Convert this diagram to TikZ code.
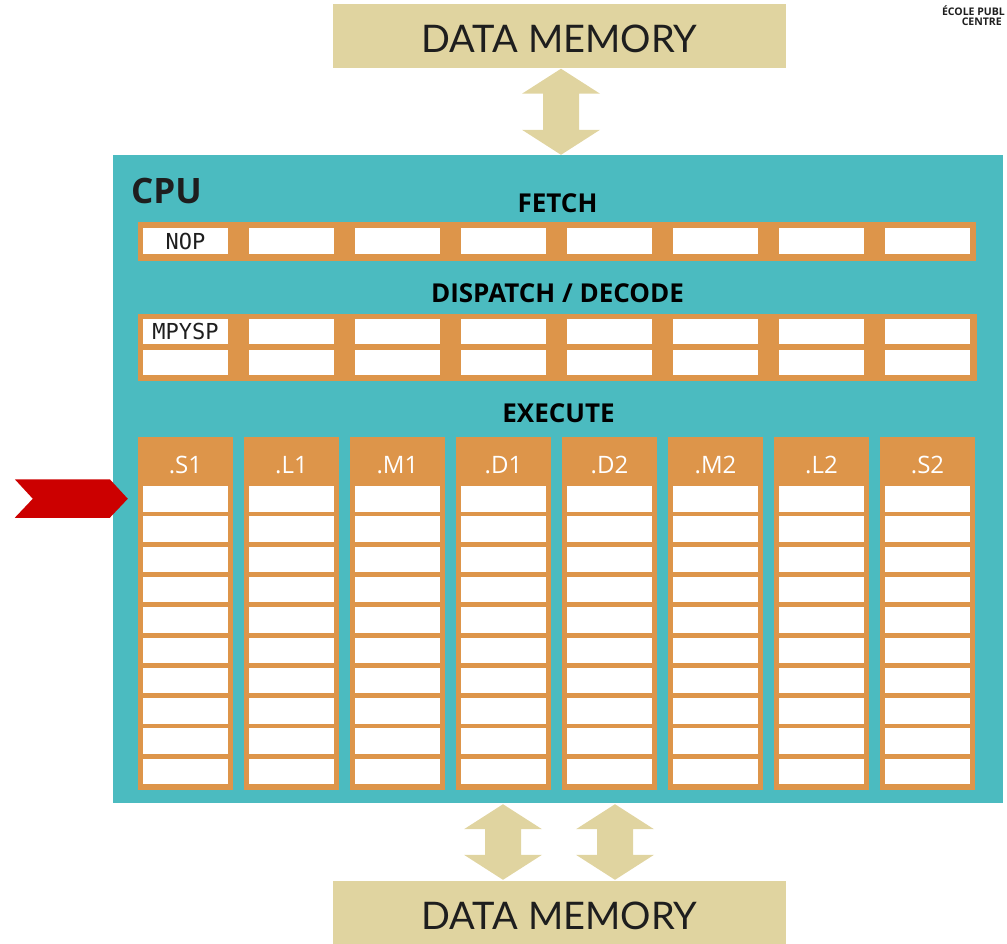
\documentclass[tikz,border=0pt]{standalone}
\usepackage{fontspec}
\setmainfont{Open Sans}
\setmonofont{DejaVu Sans Mono}
\newfontfamily\memfont{Lato}
\usetikzlibrary{positioning,calc}
\definecolor{dpcpu}{RGB}{75,187,192}
\definecolor{dpslot}{RGB}{221,149,74}
\definecolor{dpmem}{RGB}{224,212,160}
\definecolor{dpalert}{RGB}{204,0,0}
\definecolor{dpink}{RGB}{30,30,30}
\tikzset{
  dpmembox/.style={
    fill=dpmem, minimum width=453pt, minimum height=64pt, inner sep=0pt,
    text=dpink, text height=33pt, font=\memfont\fontsize{38}{40}\selectfont
  },
  dpstage/.style={font=\bfseries\fontsize{26}{28}\selectfont, text=black, inner sep=0pt, anchor=base},
  dpbar/.style={fill=dpslot, inner sep=0pt},
  dpcell/.style={
    fill=white, minimum width=85pt, minimum height=25.5pt, inner sep=0pt,
    font=\ttfamily\fontsize{22}{24}\selectfont, text=dpink
  },
  dpunit/.style={fill=dpslot, minimum width=95pt, minimum height=353pt, inner sep=0pt},
  dpunitlbl/.style={font=\fontsize{24}{26}\selectfont, text=white, inner sep=0pt, anchor=base},
  dpbus/.style={fill=dpmem},
  dplogo/.style={font=\bfseries\fontsize{10.5}{12}\selectfont, text=dpink, inner sep=0pt},
}
% block arrow between two tips (top, bottom)
\newcommand{\dpbusarrow}[2]{%
  \fill[dpbus] (#1) -- ++(39,25) -- ++(-21,0) -- ($(#2)+(18,-25)$) -- ++(21,0) -- (#2)
    -- ++(-39,-25) -- ++(21,0) -- ($(#1)+(-18,25)$) -- ++(-21,0) -- cycle;}

\begin{document}
\begin{tikzpicture}[x=1pt, y=-1pt]
  \useasboundingbox (0,0) rectangle (1007,943);

  % memories
  \node[dpmembox] (memtop) at (559.5,36) {DATA MEMORY};
  \node[dpmembox] (membot) at (559.5,913) {DATA MEMORY};
  \node[dplogo, anchor=base east] (logo1) at (1005,15) {ÉCOLE PUBL};
  \node[dplogo, anchor=base east] (logo2) at (1002,25.5) {CENTRE};

  % CPU
  \node[fill=dpcpu, minimum width=890pt, minimum height=648pt, inner sep=0pt] (cpu) at (558,479) {};
  \node[font=\bfseries\fontsize{35}{38}\selectfont, text=dpink, inner sep=0pt, anchor=base west] (cpulbl) at (131,203) {CPU};

  % buses
  \coordinate (bus1a) at ($(memtop.south)+(1.5,0.5)$);
  \coordinate (bus1b) at (cpu.north -| bus1a);
  \coordinate (bus2a) at ($(cpu.south)+(-55,1)$);
  \coordinate (bus2b) at ($(membot.north -| bus2a)+(0,-1)$);
  \coordinate (bus3a) at ($(cpu.south)+(57,1)$);
  \coordinate (bus3b) at ($(membot.north -| bus3a)+(0,-1)$);
  \dpbusarrow{bus1a}{bus1b}
  \dpbusarrow{bus2a}{bus2b}
  \dpbusarrow{bus3a}{bus3b}

  % Fetch
  \node[dpstage] (fetch) at (557.5,212) {FETCH};
  \node[dpbar, minimum width=838pt, minimum height=39pt] (fetchbar) at (557,241.5) {};
  \node[dpcell] (f0) at (185.5,241) {NOP};
  \foreach \i in {1,...,7}
    \node[dpcell] (f\i) at ({185.5+106*\i},241) {};

  % Dispatch / decode
  \node[dpstage] (decode) at (557.5,302) {DISPATCH / DECODE};
  \node[dpbar, minimum width=839pt, minimum height=67pt] (decbar) at (557.5,347.5) {};
  \node[dpcell] (d0-1) at (185.5,331.5) {MPYSP};
  \node[dpcell] (d0-2) at (185.5,362.5) {};
  \foreach \i in {1,...,7} {
    \node[dpcell] (d\i-1) at ({185.5+106*\i},331.5) {};
    \node[dpcell] (d\i-2) at ({185.5+106*\i},362.5) {};
  }

  % Execute
  \node[dpstage] (execute) at (558.5,422) {EXECUTE};
  \foreach \lbl [count=\i from 0] in {.S1,.L1,.M1,.D1,.D2,.M2,.L2,.S2} {
    \node[dpunit] (u\i) at ({185.5+106*\i},613.5) {};
    \node[dpunitlbl] (h\i) at ({185.5+106*\i},473) {\lbl};
    \foreach \j in {0,...,9}
      \node[dpcell] (e\i-\j) at ({185.5+106*\i},{498.75+30.3*\j}) {};
  }

  % current cycle marker
  \fill[dpalert] ($(e0-0.west)+(-128,-19.5)$) -- ++(95,0) -- ($(e0-0.west)+(-15,0)$)
    -- ++(-18,19) -- ++(-95,0) -- ++(18,-19) -- cycle;
\end{tikzpicture}
\end{document}
